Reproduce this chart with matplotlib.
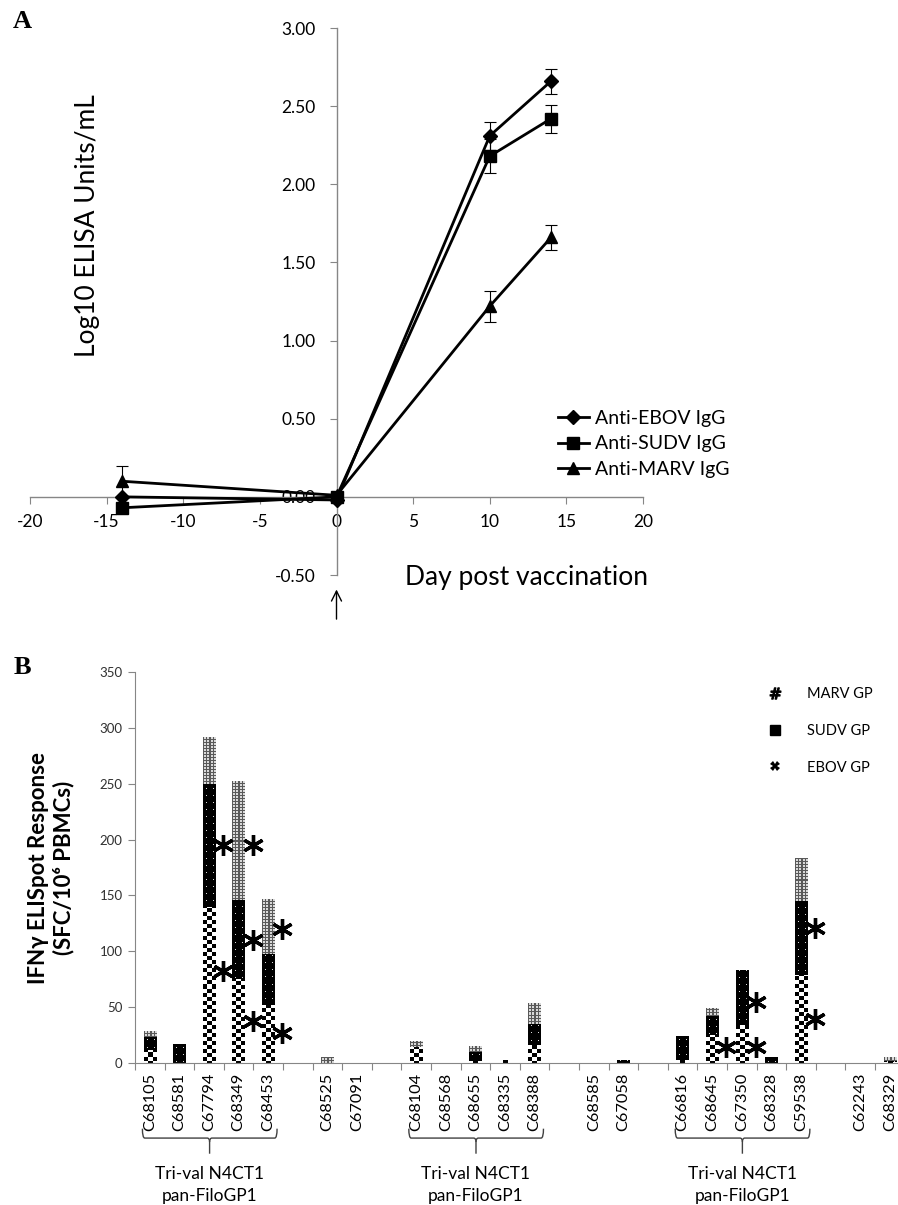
import numpy as np
import matplotlib
matplotlib.use('Agg')
import matplotlib.pyplot as plt
import matplotlib.transforms as mtransforms
from matplotlib.patches import PathPatch
from matplotlib.lines import Line2D
from matplotlib.path import Path

plt.rcParams['font.family'] = ['Lato', 'DejaVu Sans']
plt.rcParams['axes.unicode_minus'] = False

# ---- panel A: ELISA ----
days = [-14, 0, 10, 14]
ebov_igg = [0.00, -0.02, 2.31, 2.66]
ebov_err = [0.00, 0.00, 0.09, 0.08]
sudv_igg = [-0.07, 0.00, 2.18, 2.42]
sudv_err = [0.00, 0.00, 0.11, 0.09]
marv_igg = [0.10, 0.01, 1.22, 1.66]
marv_err = [0.10, 0.00, 0.10, 0.08]

# ---- panel B: ELISpot ----
animals = ['C68105', 'C68581', 'C67794', 'C68349', 'C68453', '',
           'C68525', 'C67091', '',
           'C68104', 'C68568', 'C68655', 'C68335', 'C68388', '',
           'C68585', 'C67058', '',
           'C66816', 'C68645', 'C67350', 'C68328', 'C59538', '',
           'C62243', 'C68329']
ebov_gp = [12, 0, 140, 75, 52, 0, 0, 0, 0, 14, 0, 2, 2, 16, 0, 0, 0, 0, 3, 25, 34, 0, 79, 0, 0, 1]
sudv_gp = [11, 17, 110, 71, 46, 0, 0, 0, 0, 0, 0, 8, 0, 19, 0, 0, 2, 0, 21, 17, 49, 5, 66, 0, 0, 1]
marv_gp = [5, 0, 42, 106, 49, 0, 5, 0, 0, 5, 0, 5, 0, 18, 0, 0, 0, 0, 0, 7, 0, 0, 38, 0, 0, 3]
star_slot = [2, 2, 3, 3, 3, 4, 4, 19, 20, 20, 22, 22]
star_y = [195, 82, 195, 110, 38, 120, 27, 14, 55, 14, 121, 39]
groups = [(0, 4), (9, 13), (18, 22)]
group_label = 'Tri-val N4CT1\npan-FiloGP1'

W, H = 898, 1205
fig = plt.figure(figsize=(W / 100, H / 100), dpi=100)
grey = '#868686'

# ================= panel A =================
ax = fig.add_axes([30 / W, 1 - 575 / H, 613 / W, 547 / H])
ax.set_xlim(-20, 20)
ax.set_ylim(-0.5, 3.0)
for s in ['top', 'right']:
    ax.spines[s].set_visible(False)
ax.spines['left'].set_position(('data', 0))
ax.spines['bottom'].set_position(('data', 0))
for s in ['left', 'bottom']:
    ax.spines[s].set_color(grey)
    ax.spines[s].set_linewidth(1)
ax.set_xticks(np.arange(-20, 21, 5))
ax.set_yticks(np.arange(-0.5, 3.01, 0.5))
ax.set_yticklabels(['%.2f' % v for v in np.arange(-0.5, 3.01, 0.5)])
ax.tick_params(axis='y', direction='out', length=5, color=grey, pad=10, labelsize=12.5)
ax.tick_params(axis='x', direction='out', length=5, color=grey, pad=7, labelsize=12.5)

series = [(ebov_igg, ebov_err, 'D', 7, 'Anti-EBOV IgG'),
          (sudv_igg, sudv_err, 's', 8, 'Anti-SUDV IgG'),
          (marv_igg, marv_err, '^', 9, 'Anti-MARV IgG')]
handles = []
for vals, err, mk, ms, lab in series:
    ax.errorbar(days, vals, yerr=err, fmt='none', ecolor='black', elinewidth=0.8,
                capsize=4, capthick=0.8, zorder=3)
    h, = ax.plot(days, vals, color='black', lw=2, marker=mk, ms=ms, label=lab, zorder=4,
                 clip_on=False)
    handles.append(h)

ax.legend(handles=handles, loc='upper left', bbox_to_anchor=(548 / W, 1 - 400 / H),
          bbox_transform=fig.transFigure, frameon=False, fontsize=14,
          handlelength=1.6, handletextpad=0.3, labelspacing=0.45, borderpad=0)

ax.annotate('', xy=(0, -0.575), xytext=(0, -0.80), xycoords='data',
            arrowprops=dict(arrowstyle='->', color='black', lw=1, mutation_scale=18),
            annotation_clip=False)

fig.text(88 / W, 1 - 226 / H, 'Log10 ELISA Units/mL', rotation=90, ha='center',
         va='center', fontsize=19)
fig.text(405 / W, 1 - 577 / H, 'Day post vaccination', ha='left', va='center', fontsize=19)
fig.text(22 / W, 1 - 22 / H, 'A', ha='center', va='center', fontsize=19,
         fontweight='bold', family='Liberation Serif')

# ================= panel B =================
bx = fig.add_axes([135 / W, 1 - 1063 / H, 26 * 29.6 / W, 391 / H])
xpos = np.arange(len(animals))
bx.set_xlim(-0.5, len(animals) - 0.5)
bx.set_ylim(0, 350)

bw = 0.42
b_e = bx.bar(xpos, ebov_gp, bw, color='white', lw=0, label='EBOV GP', zorder=2)
b_s = bx.bar(xpos, sudv_gp, bw, bottom=ebov_gp, color='black', lw=0, label='SUDV GP', zorder=2)
bot2 = np.array(ebov_gp) + np.array(sudv_gp)
b_m = bx.bar(xpos, marv_gp, bw, bottom=bot2, color='#bbbbbb', lw=0, label='MARV GP', zorder=2)


def texture(rect, kind):
    x0, y0 = rect.get_x(), rect.get_y()
    w, h = rect.get_width(), rect.get_height()
    if h <= 0:
        return
    p0 = bx.transData.transform((x0, y0))
    p1 = bx.transData.transform((x0 + w, y0 + h))
    wpx = max(1, int(round(p1[0] - p0[0])))
    hpx = max(1, int(round(p1[1] - p0[1])))
    r, c = np.mgrid[0:hpx, 0:wpx]
    r = (hpx - 1 - r) + int(round(p0[1]))  # count rows from the bottom
    if kind == 'check':
        arr = np.where(((r // 4) + (c // 4)) % 2 == 0, 0.0, 1.0)
    elif kind == 'dots':
        arr = np.zeros(r.shape)
        arr[(r % 7 == 3) & (c % 6 == 3)] = 0.85
    else:
        arr = np.where((r % 3 == 0) | (c % 3 == 0), 0.35, 0.85)
    bx.imshow(arr, cmap='gray', vmin=0, vmax=1, extent=(x0, x0 + w, y0, y0 + h),
              aspect='auto', interpolation='nearest', zorder=2.5)


for rect in b_e:
    texture(rect, 'check')
for rect in b_s:
    texture(rect, 'dots')
for rect in b_m:
    texture(rect, 'grid')
bx.set_xlim(-0.5, len(animals) - 0.5)
bx.set_ylim(0, 350)

bx.plot(np.array(star_slot) + 0.47, star_y, ls='none', marker=(6, 2, 0), ms=15, mew=2.4,
        color='black', zorder=5, clip_on=False)

for s in ['top', 'right']:
    bx.spines[s].set_visible(False)
for s in ['left', 'bottom']:
    bx.spines[s].set_color(grey)
bx.set_yticks(np.arange(0, 351, 50))
bx.tick_params(axis='y', direction='out', length=5, color=grey, labelsize=9.5, pad=4,
               labelcolor='#303030')
bx.set_xticks(np.arange(-0.5, len(animals), 1))
bx.set_xticklabels([])
bx.set_xticks(xpos, minor=True)
bx.set_xticklabels(animals, minor=True, rotation=90, fontsize=11.8, va='top')
bx.tick_params(axis='x', which='major', direction='out', length=5, color=grey)
bx.tick_params(axis='x', which='minor', length=0, pad=7)

tr = mtransforms.blended_transform_factory(bx.transData, bx.transAxes)
y_top, y_mid, y_bot = -0.168, -0.192, -0.232
for g0, g1 in groups:
    xa, xb = g0 - 0.25, g1 + 0.3
    xc = (g0 + g1) / 2 + 0.02
    d = 0.08
    verts = [(xa, y_top), (xa, y_mid), (xa + d, y_mid), (xc - d, y_mid), (xc, y_mid),
             (xc, y_mid - 0.01), (xc, y_bot)]
    codes = [Path.MOVETO, Path.CURVE3, Path.CURVE3, Path.LINETO, Path.CURVE3, Path.CURVE3,
             Path.LINETO]
    bx.add_patch(PathPatch(Path(verts, codes), fill=False, lw=1, color='#404040',
                           transform=tr, clip_on=False))
    verts = [(xb, y_top), (xb, y_mid), (xb - d, y_mid), (xc + d, y_mid), (xc, y_mid),
             (xc, y_mid - 0.01)]
    codes = [Path.MOVETO, Path.CURVE3, Path.CURVE3, Path.LINETO, Path.CURVE3, Path.CURVE3]
    bx.add_patch(PathPatch(Path(verts, codes), fill=False, lw=1, color='#404040',
                           transform=tr, clip_on=False))
    bx.text(xc, -0.312, group_label, transform=tr, ha='center', va='center',
            fontsize=12.5, linespacing=1.45)

leg_handles = [Line2D([], [], ls='none', marker=r'$\#$', ms=8, color='black'),
               Line2D([], [], ls='none', marker='s', ms=7, color='black'),
               Line2D([], [], ls='none', marker='X', ms=7, color='black', mew=0)]
bx.legend(leg_handles, ['MARV GP', 'SUDV GP', 'EBOV GP'], loc='upper left',
          bbox_to_anchor=(762 / W, 1 - 680 / H), bbox_transform=fig.transFigure,
          frameon=False, fontsize=10.5, handlelength=0.8, handletextpad=1.8,
          labelspacing=1.55, borderpad=0)

fig.text(51 / W, 1 - 868 / H, 'IFN\u03b3 ELISpot Response\n(SFC/10\u2076 PBMCs)', rotation=90,
         ha='center', va='center', fontsize=16, fontweight='bold', multialignment='center')
fig.text(22 / W, 1 - 668 / H, 'B', ha='center', va='center', fontsize=19,
         fontweight='bold', family='Liberation Serif')

fig.savefig('out.png', dpi=100)
